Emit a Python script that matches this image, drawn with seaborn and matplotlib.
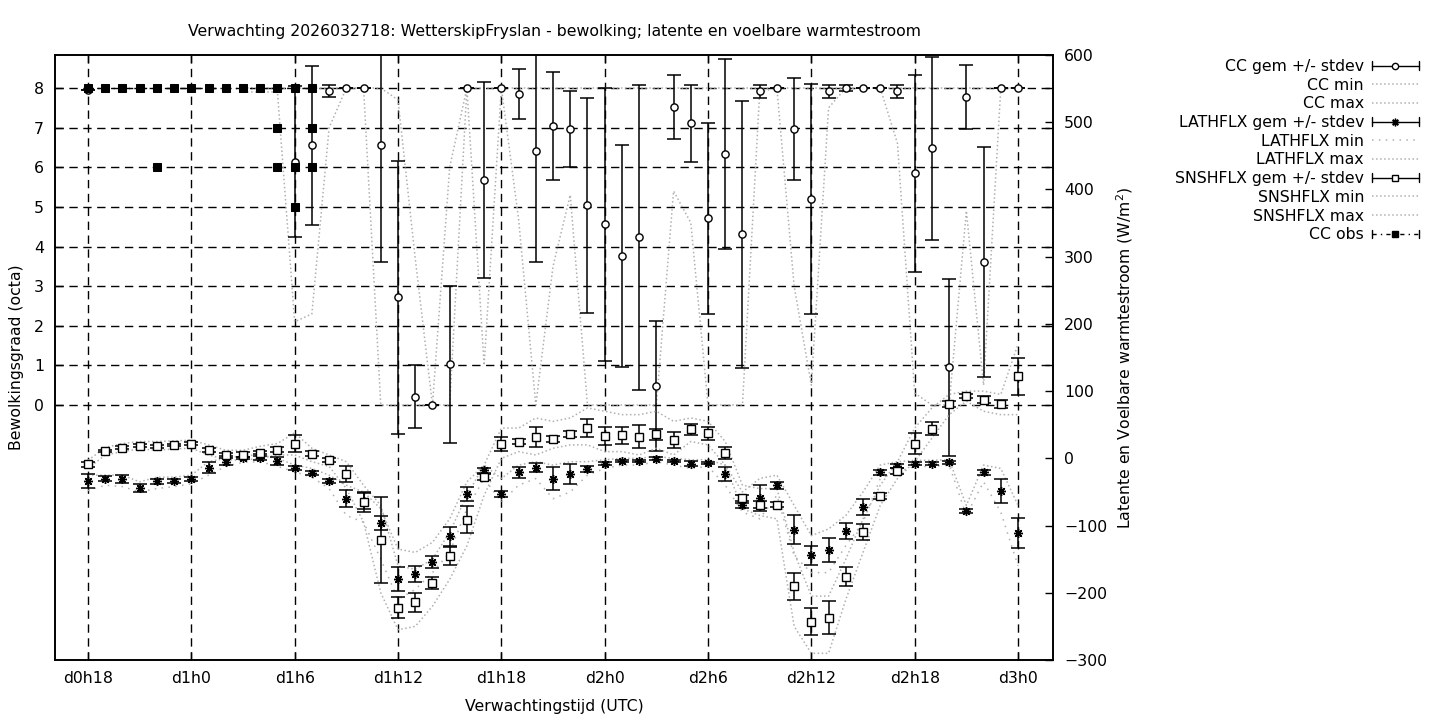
import matplotlib
matplotlib.use("Agg")
import matplotlib.pyplot as plt
import seaborn as sns
from matplotlib.lines import Line2D
from matplotlib.legend_handler import HandlerBase

# ---------------- data ----------------
tick_hours = [0, 6, 12, 18, 24, 30, 36, 42, 48, 54]
tick_labels = ["d0h18", "d1h0", "d1h6", "d1h12", "d1h18",
               "d2h0", "d2h6", "d2h12", "d2h18", "d3h0"]

# cloud cover ensemble mean / stdev (octa)
cc_hours = [0] + list(range(12, 55))
cc_mean = [7.95,
           6.14, 6.55, 7.92, 8.0, 8.0, 6.55, 2.72, 0.21, 0.0, 1.03,
           8.0, 5.68, 8.0, 7.85, 6.41, 7.04, 6.96, 5.04, 4.56, 3.75,
           4.23, 0.48, 7.52, 7.11, 4.71, 6.33, 4.31, 7.92, 8.0, 6.96,
           5.2, 7.92, 8.0, 8.0, 8.0, 7.92, 5.85, 6.48, 0.95, 7.77,
           3.6, 8.0, 8.0]
cc_std = [0.0,
          1.9, 2.0, 0.15, 0.0, 0.0, 2.95, 3.44, 0.8, 0.0, 1.98,
          0.0, 2.48, 0.0, 0.63, 2.8, 1.36, 0.96, 2.72, 3.45, 2.8,
          3.85, 1.65, 0.8, 0.97, 2.41, 2.4, 3.37, 0.16, 0.0, 1.29,
          2.9, 0.16, 0.07, 0.0, 0.0, 0.16, 2.49, 2.31, 2.24, 0.8,
          2.9, 0.0, 0.0]

# cloud cover min / max (octa)
cc_mm_hours = list(range(9, 55))
cc_min = [7.9, 7.9, 7.9, 2.1, 2.3, 7.0, 8.0, 8.0, 0.0, 0.0,
          0.0, 0.0, 0.0, 8.0, 1.0, 8.0, 4.7, 0.0, 3.5, 5.3,
          0.0, 0.0, 0.0, 0.0, 0.0, 5.4, 4.6, 0.0, 0.0, 0.0,
          7.9, 8.0, 3.0, 0.5, 7.5, 8.0, 8.0, 8.0, 6.6, 0.3,
          0.0, 0.0, 4.9, 0.5, 8.0, 8.0]
cc_max = [8.0, 8.0, 8.0, 8.0, 8.0, 8.0, 8.0, 8.0, 8.0, 7.7,
          3.7, 0.0, 6.0, 8.0, 8.0, 8.0, 8.0, 8.0, 8.0, 8.0,
          8.0, 8.0, 8.0, 8.0, 8.0, 8.0, 8.0, 8.0, 8.0, 8.0,
          8.0, 8.0, 8.0, 8.0, 8.0, 8.0, 8.0, 8.0, 8.0, 8.0,
          8.0, 8.0, 8.0, 8.0, 8.0, 8.0]

# observed cloud cover (octa)
obs_hours = list(range(0, 14))
obs_cc = [8, 8, 8, 8, 8, 8, 8, 8, 8, 8, 8, 8, 8, 8]
obs_extra_hours = [4, 11, 11, 12, 12, 13, 13]
obs_extra_cc = [6, 7, 6, 6, 5, 7, 6]

# heat fluxes (W/m2), hourly 0..54
flux_hours = list(range(0, 55))
lath_mean = [-34, -30, -31, -44, -34, -34, -31, -14, -5, 0.5,
             1, -4.5, -15, -22, -33, -60, -63, -96, -179, -172,
             -154, -116, -53, -18, -53, -21, -14, -30, -23, -16,
             -8, -4, -4, -0.5, -4, -8, -7, -23, -70, -59,
             -40, -106, -144, -136, -108, -72, -21, -12, -8, -8,
             -6, -79, -21, -48, -111]
lath_std = [10, 4, 6, 6, 4, 3, 3, 8, 5, 2,
            3, 6, 3, 3, 3, 13, 12, 10, 18, 12,
            9, 14, 10, 4, 4, 8, 7, 17, 15, 4,
            2, 2, 2, 2, 2, 4, 2, 10, 4, 19,
            5, 22, 14, 18, 12, 12, 4, 3, 2, 2,
            2, 3, 4, 18, 22]
lath_max = [-25, -25, -25, -35, -28, -28, -25, -5, 0, 4,
            5, 0, -10, -15, -25, -40, -50, -75, -135, -140,
            -125, -90, -35, -10, -30, -10, -5, -10, -5, -5,
            -2, 0, 0, 3, 0, -2, -2, -10, -50, -30,
            -25, -70, -115, -105, -85, -50, -10, -5, -3, -3,
            -2, -70, -10, -15, -70]
lath_min = [-48, -40, -42, -50, -45, -42, -38, -25, -12, -6,
            -5, -12, -20, -28, -45, -85, -95, -150, -210, -195,
            -170, -140, -75, -30, -65, -40, -30, -60, -50, -25,
            -15, -10, -10, -5, -10, -15, -12, -40, -80, -90,
            -55, -145, -170, -170, -130, -95, -30, -20, -12, -12,
            -10, -85, -35, -80, -160]

snsh_mean = [-9, 11, 16, 19, 18, 20, 22, 13, 5.5, 5.5,
             8.5, 13, 22, 7, -2, -23, -65, -122, -222, -214,
             -186, -145, -91, -28, 21, 25, 32, 29, 36, 45,
             33, 34, 32, 36, 27, 43, 37, 8.5, -59, -69,
             -69, -190, -243, -237, -176, -109, -56, -19, 22, 44,
             81, 93, 87, 81, 122]
snsh_std = [4, 2, 2, 2, 2, 2, 2, 3, 2, 4,
            2, 4, 12, 4, 3, 12, 15, 64, 15, 14,
            9, 13, 20, 4, 10, 4, 15, 4, 4, 13,
            13, 12, 17, 8, 12, 8, 9, 9, 4, 5,
            4, 20, 20, 25, 14, 12, 5, 4, 15, 10,
            4, 3, 5, 6, 28]
snsh_max = [-3, 16, 22, 25, 25, 26, 27, 20, 12, 12,
            18, 22, 38, 15, 5, -5, -40, -70, -160, -165,
            -150, -110, -55, -10, 45, 45, 60, 55, 60, 75,
            70, 65, 65, 70, 55, 60, 55, 25, -40, -45,
            -45, -140, -205, -205, -150, -90, -40, -5, 45, 75,
            95, 100, 100, 95, 170]
snsh_min = [-15, 5, 10, 14, 12, 14, 15, 5, -2, -3,
            0, 5, 5, -5, -12, -45, -95, -200, -255, -250,
            -220, -180, -130, -55, 0, 10, 5, 15, 20, 20,
            10, 10, 5, 15, 5, 25, 20, -10, -75, -85,
            -90, -250, -290, -290, -210, -140, -70, -30, -5, 30,
            65, 85, 70, 65, 65]

title = ("Verwachting 2026032718: WetterskipFryslan - bewolking; "
         "latente en voelbare warmtestroom")

# ---------------- style ----------------
sns.set_theme(style="ticks")
plt.rcParams["font.family"] = ["DejaVu Sans"]
plt.rcParams["font.size"] = 11.3
plt.rcParams["axes.edgecolor"] = "black"
plt.rcParams["xtick.color"] = "black"
plt.rcParams["ytick.color"] = "black"
plt.rcParams["text.color"] = "black"
plt.rcParams["axes.labelcolor"] = "black"

GRAY = "#b0b0b0"
FS = 11.3
STAR = (8, 2, 0)

fig = plt.figure(figsize=(14.4, 7.2), dpi=100)
ax = fig.add_axes([55 / 1440, 60 / 720, 998 / 1440, 605 / 720])
ax2 = ax.twinx()

# ---------------- cloud cover (left axis) ----------------
sns.lineplot(x=cc_mm_hours, y=cc_min, ax=ax, color=GRAY, linestyle=":",
             linewidth=1.1, estimator=None, zorder=2)
sns.lineplot(x=cc_mm_hours, y=cc_max, ax=ax, color=GRAY, linestyle=":",
             linewidth=1.1, estimator=None, zorder=2)

ax.errorbar(cc_hours, cc_mean, yerr=cc_std, fmt="none", ecolor="black",
            elinewidth=1.1, capsize=5, capthick=1.1, zorder=3)
sns.lineplot(x=cc_hours, y=cc_mean, ax=ax, linestyle="none", marker="o",
             markersize=5.2, markerfacecolor="white", markeredgecolor="black",
             markeredgewidth=1.0, estimator=None, zorder=4)

sns.lineplot(x=obs_hours, y=obs_cc, ax=ax, color="black",
             linestyle=(0, (4, 3, 1, 3)), linewidth=1.0, marker="s",
             markersize=5.4, markerfacecolor="black", markeredgecolor="black",
             estimator=None, zorder=5)
sns.lineplot(x=obs_extra_hours, y=obs_extra_cc, ax=ax, linestyle="none",
             marker="s", markersize=5.4, markerfacecolor="black",
             markeredgecolor="black", estimator=None, zorder=5)

# ---------------- heat fluxes (right axis) ----------------
sns.lineplot(x=flux_hours, y=lath_min, ax=ax2, color=GRAY,
             linestyle=(0, (1, 3.5)), linewidth=1.1, estimator=None, zorder=2)
sns.lineplot(x=flux_hours, y=lath_max, ax=ax2, color=GRAY, linestyle=":",
             linewidth=1.1, estimator=None, zorder=2)
sns.lineplot(x=flux_hours, y=snsh_min, ax=ax2, color=GRAY, linestyle=":",
             linewidth=1.1, estimator=None, zorder=2)
sns.lineplot(x=flux_hours, y=snsh_max, ax=ax2, color=GRAY, linestyle=":",
             linewidth=1.1, estimator=None, zorder=2)

ax2.errorbar(flux_hours, lath_mean, yerr=lath_std, fmt="none", ecolor="black",
             elinewidth=1.1, capsize=5, capthick=1.1, zorder=3)
ax2.errorbar(flux_hours, snsh_mean, yerr=snsh_std, fmt="none", ecolor="black",
             elinewidth=1.1, capsize=5, capthick=1.1, zorder=3)
sns.lineplot(x=flux_hours, y=lath_mean, ax=ax2, linestyle="none",
             marker=STAR, markersize=6.5, markeredgecolor="black",
             markeredgewidth=1.0, estimator=None, zorder=4)
sns.lineplot(x=flux_hours, y=snsh_mean, ax=ax2, linestyle="none", marker="s",
             markersize=5.4, markerfacecolor="white", markeredgecolor="black",
             markeredgewidth=1.0, estimator=None, zorder=4)

# ---------------- axes ----------------
ax.set_xlim(-1.916, 56.03)
ax.set_ylim(-6.435, 8.833)
ax2.set_ylim(-300, 600)

ax.set_xticks(tick_hours)
ax.set_xticklabels(tick_labels)
ax.set_yticks(list(range(0, 9)))
ax2.set_yticks(list(range(-300, 601, 100)))

dash = (0, (6, 4))
ax.grid(True, axis="both", color="black", linestyle=dash, linewidth=1.0)
ax2.grid(False)
ax.set_axisbelow(True)

ax.tick_params(axis="both", direction="in", length=6, width=1,
               labelsize=FS, top=True, right=True, labelright=False, pad=8)
ax2.tick_params(axis="y", direction="in", length=6, width=1,
                labelsize=FS, pad=8)
for a in (ax, ax2):
    for s in a.spines.values():
        s.set_linewidth(1.2)
        s.set_color("black")
        s.set_visible(True)

ax.set_xlabel("Verwachtingstijd (UTC)", fontsize=FS, labelpad=9)
ax.set_ylabel("Bewolkingsgraad (octa)", fontsize=FS, labelpad=7)
ax2.set_ylabel("Latente en Voelbare warmtestroom (W/m$^2$)", fontsize=FS,
               labelpad=5)
ax.set_title(title, fontsize=FS, pad=14)


# ---------------- legend ----------------
class KeyErr(HandlerBase):
    def __init__(self, marker, ms, mfc, ls="-", mew=1.0):
        super().__init__()
        self.marker, self.ms, self.mfc, self.ls, self.mew = marker, ms, mfc, ls, mew

    def create_artists(self, legend, orig_handle, xdescent, ydescent,
                       width, height, fontsize, trans):
        y = height / 2.0 - ydescent
        x0 = -xdescent
        x1 = x0 + width
        arts = [Line2D([x0, x1], [y, y], color="black", lw=1.0, ls=self.ls),
                Line2D([x0, x0], [y - 3, y + 3], color="black", lw=1.0),
                Line2D([x1, x1], [y - 3, y + 3], color="black", lw=1.0),
                Line2D([(x0 + x1) / 2], [y], marker=self.marker, ms=self.ms,
                       mfc=self.mfc, mec="black", mew=self.mew, ls="none")]
        for a in arts:
            a.set_transform(trans)
        return arts


h_cc = Line2D([], [])
h_lath = Line2D([], [])
h_snsh = Line2D([], [])
h_obs = Line2D([], [])
h_ccmin = Line2D([], [], color=GRAY, ls=":", lw=1.1)
h_ccmax = Line2D([], [], color=GRAY, ls=":", lw=1.1)
h_lmin = Line2D([], [], color=GRAY, ls=(0, (1, 3.5)), lw=1.1)
h_lmax = Line2D([], [], color=GRAY, ls=":", lw=1.1)
h_smin = Line2D([], [], color=GRAY, ls=":", lw=1.1)
h_smax = Line2D([], [], color=GRAY, ls=":", lw=1.1)

handles = [h_cc, h_ccmin, h_ccmax, h_lath, h_lmin, h_lmax,
           h_snsh, h_smin, h_smax, h_obs]
labels = ["CC gem +/- stdev", "CC min", "CC max",
          "LATHFLX gem +/- stdev", "LATHFLX min", "LATHFLX max",
          "SNSHFLX gem +/- stdev", "SNSHFLX min", "SNSHFLX max", "CC obs"]
hmap = {h_cc: KeyErr("o", 4.5, "white"),
        h_lath: KeyErr(STAR, 5.5, "black", mew=1.0),
        h_snsh: KeyErr("s", 5, "white"),
        h_obs: KeyErr("s", 5, "black", ls=(0, (3, 3, 1, 3)))}
fig.legend(handles, labels, handler_map=hmap, loc="upper right",
           bbox_to_anchor=(1419 / 1440, 1 - 59 / 720), frameon=False,
           markerfirst=False, fontsize=FS, handlelength=3.0,
           handletextpad=0.5, labelspacing=0.235, borderaxespad=0,
           borderpad=0)

fig.savefig("out.png", dpi=100)
